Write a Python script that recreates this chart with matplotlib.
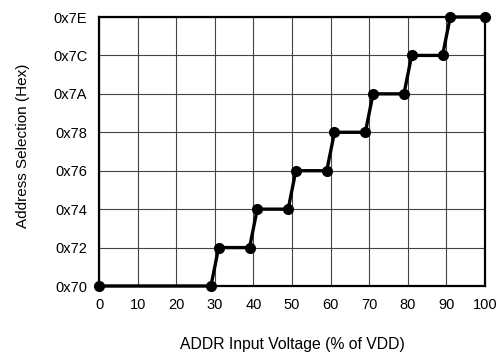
import matplotlib
matplotlib.use("Agg")
import matplotlib.pyplot as plt

plt.rcParams["font.family"] = ["Liberation Sans", "DejaVu Sans"]

# ADDR 电压 (% of VDD) 与地址
volt = [0, 29, 31, 39, 41, 49, 51, 59, 61, 69, 71, 79, 81, 89, 91, 100]
addr = [0x70, 0x70, 0x72, 0x72, 0x74, 0x74, 0x76, 0x76,
        0x78, 0x78, 0x7A, 0x7A, 0x7C, 0x7C, 0x7E, 0x7E]
x_ticks = list(range(0, 101, 10))
y_ticks = list(range(0x70, 0x7F, 2))

fig = plt.figure(figsize=(5.01, 3.54), dpi=100)
ax = fig.add_axes([99 / 501, 1 - 286 / 354, 386 / 501, 269 / 354])

ax.plot(volt, addr, color="black", lw=2.4, marker="o", ms=7,
        clip_on=False, zorder=5)

ax.set_xlim(0, 100)
ax.set_ylim(0x70, 0x7E)
ax.set_xticks(x_ticks)
ax.set_yticks(y_ticks)
ax.set_yticklabels([f"0x{v:02X}" for v in y_ticks])
ax.tick_params(length=0, labelsize=10.5, pad=8.5)
ax.grid(True, color="#444444", lw=0.8)
for s in ax.spines.values():
    s.set_linewidth(1.6)
    s.set_color("black")

ax.set_xlabel("ADDR Input Voltage (% of VDD)", fontsize=11.3)
ax.set_ylabel("Address Selection (Hex)", fontsize=11)
ax.xaxis.set_label_coords(0.5, -0.19)
ax.yaxis.set_label_coords(-0.178, 0.52)

fig.savefig("out.png", dpi=100)
